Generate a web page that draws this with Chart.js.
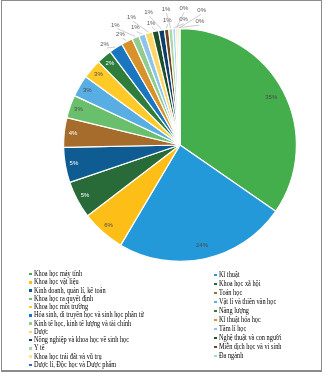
<!DOCTYPE html>
<html>
<head>
<meta charset="utf-8">
<script src="https://cdn.jsdelivr.net/npm/chart.js@4/dist/chart.umd.min.js"></script>
<style>
  html, body { margin: 0; padding: 0; background: #fff; }
  #frame { position: absolute; left: 1px; top: 0; width: 321px; height: 372px; border: 1px solid #8c8c8c; border-bottom-width: 2px; box-sizing: border-box; }
  #wrap { position: absolute; left: 0; top: 0; width: 325px; height: 270px; }
  .col { position: absolute; top: 0; font-family: "Liberation Serif", "DejaVu Serif", serif; font-size: 7.5px; color: #000; }
  .row { position: absolute; white-space: nowrap; transform-origin: 0 50%; }
  .mk { position: absolute; width: 2.5px; height: 2.5px; }
</style>
</head>
<body>
<div id="frame"></div>
<div id="wrap"><canvas id="c" width="325" height="270"></canvas></div>
<div id="legend"></div>
<script>
// ---- data ----
const categories = [
  "Khoa học máy tính",
  "Kĩ thuật",
  "Khoa học vật liệu",
  "Khoa học xã hội",
  "Kinh doanh, quản lí, kế toán",
  "Toán học",
  "Khoa học ra quyết định",
  "Vật lí và thiên văn học",
  "Khoa học môi trường",
  "Năng lượng",
  "Hóa sinh, di truyền học và sinh học phân tử",
  "Kĩ thuật hóa học",
  "Kinh tế học, kinh tế lượng và tài chính",
  "Tâm lí học",
  "Dược",
  "Nghệ thuật và con người",
  "Nông nghiệp và khoa học về sinh học",
  "Miễn dịch học và vi sinh",
  "Y tế",
  "Đa ngành",
  "Khoa học trái đất và vũ trụ",
  "",
  "Dược lí, Độc học và Dược phẩm"
];
const shares = [34.7, 23.9, 6.1, 5.2, 4.9, 4.1, 3.2, 3.0, 2.7, 2.1, 1.9, 1.6,
                1.0, 0.9, 1.0, 0.9, 0.8, 0.6, 0.55, 0.4, 0.3, 0.2, 0.1];

// ---- styles ----
const palette = ["#44AD4C","#2399DA","#FDBE17","#286A38","#0F5C93","#A66C2C",
                 "#6ABF6C","#58ADE3","#FFC928","#2F7D3A","#1A76BE","#D8922B",
                 "#91CB8D","#8DC4EB","#FED766","#1F4F2A","#0C3E69","#6E4720",
                 "#AAD8A5","#A8D3F0","#FFE38F","#4A8F52","#2C6FA8"];
const darkSlices = new Set([3,4,5,9,10,15,16,17]);

const total = shares.reduce((a, b) => a + b, 0);

const labelPlugin = {
  id: 'sliceLabels',
  afterDatasetsDraw(chart) {
    const ctx = chart.ctx;
    const meta = chart.getDatasetMeta(0);
    const arcs = meta.data;
    ctx.save();
    ctx.font = '6px "Liberation Sans", Arial, sans-serif';
    ctx.textAlign = 'center';
    ctx.textBaseline = 'middle';
    const outside = [];
    arcs.forEach((arc, i) => {
      const pct = shares[i] / total * 100;
      const txt = Math.round(pct) + '%';
      const mid = (arc.startAngle + arc.endAngle) / 2;
      const R = arc.outerRadius;
      if (pct >= 2.0) {
        const r = R * (pct > 20 ? 0.885 : 0.925);
        ctx.fillStyle = darkSlices.has(i) ? '#ffffff' : '#4a4a4a';
        ctx.fillText(txt, arc.x + r * Math.cos(mid), arc.y + r * Math.sin(mid));
      } else {
        let deg = mid * 180 / Math.PI + 90;
        if (deg > 180) deg -= 360;
        outside.push({ i, txt, deg, arc });
      }
    });
    // group outside labels: first alone if odd count, then pairs
    const groups = [];
    let k = 0;
    if (outside.length % 2 === 1) { groups.push([outside[0]]); k = 1; }
    for (; k < outside.length; k += 2) groups.push(outside.slice(k, k + 2));
    const ideal = groups.map(g => g.reduce((s, o) => s + o.deg, 0) / g.length);
    const placed = ideal.slice();
    const gap = 7.5;
    for (let g = 1; g < placed.length; g++) {
      if (placed[g] < placed[g - 1] + gap) placed[g] = placed[g - 1] + gap;
    }
    const shift = placed.reduce((s, p, g) => s + (p - ideal[g]), 0) / placed.length;
    ctx.strokeStyle = '#a8a8a8';
    ctx.lineWidth = 0.6;
    groups.forEach((g, gi) => {
      const phi = (placed[gi] - shift) * Math.PI / 180;
      g.forEach((o, j) => {
        const arc = o.arc;
        const R = arc.outerRadius;
        const r = R + (j === 0 ? 9 : 20);
        const lx = arc.x + r * Math.sin(phi);
        const ly = arc.y - r * Math.cos(phi);
        const mid = (arc.startAngle + arc.endAngle) / 2;
        const ex = arc.x + (R + 1) * Math.cos(mid);
        const ey = arc.y + (R + 1) * Math.sin(mid);
        const ax = arc.x + (r - 4) * Math.sin(phi);
        const ay = arc.y - (r - 4) * Math.cos(phi);
        ctx.beginPath();
        ctx.moveTo(ex, ey);
        ctx.lineTo(ax, ay);
        ctx.stroke();
        ctx.fillStyle = '#595959';
        ctx.fillText(o.txt, lx, ly);
      });
    });
    ctx.restore();
  }
};

new Chart(document.getElementById('c'), {
  type: 'pie',
  data: {
    labels: categories,
    datasets: [{
      data: shares,
      backgroundColor: palette,
      borderColor: '#ffffff',
      borderWidth: 1.2
    }]
  },
  options: {
    responsive: false,
    animation: false,
    layout: { padding: { top: 28, bottom: 8, left: 63, right: 28 } },
    plugins: { legend: { display: false }, tooltip: { enabled: false } }
  },
  plugins: [labelPlugin]
});

// ---- legend (two columns, row-major order) ----
const legend = document.getElementById('legend');
function makeCol(indices, markerX, textX, top, step, scale) {
  indices.forEach((idx, r) => {
    if (!categories[idx]) return;
    const y = top + r * step;
    const mk = document.createElement('div');
    mk.className = 'mk';
    mk.style.left = markerX + 'px';
    mk.style.top = (y - 1.25) + 'px';
    mk.style.background = palette[idx];
    legend.appendChild(mk);
    const t = document.createElement('div');
    t.className = 'row col';
    t.textContent = categories[idx];
    t.style.left = textX + 'px';
    t.style.top = (y - 5) + 'px';
    t.style.lineHeight = '10px';
    t.style.transform = 'scaleX(' + scale + ')';
    legend.appendChild(t);
  });
}
const leftIdx = [], rightIdx = [];
categories.forEach((c, i) => (i % 2 === 0 ? leftIdx : rightIdx).push(i));
makeCol(leftIdx, 29, 34, 274, 8.25, 0.84);
makeCol(rightIdx, 214, 219, 275, 9, 0.84);
</script>
</body>
</html>
